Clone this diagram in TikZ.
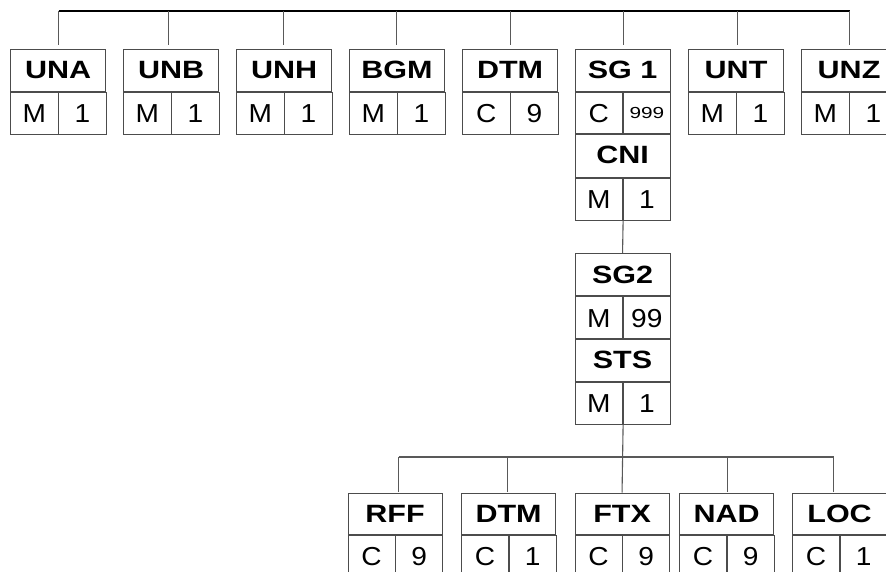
\documentclass[tikz,border=0pt]{standalone}
\usepackage{fontspec}
\setmainfont{Liberation Sans}
\newcommand\hdtext[1]{\scalebox{1.22}[1]{\fontsize{25}{25}\selectfont\bfseries #1}}
\newcommand\cltext[1]{\scalebox{1.08}[1]{\fontsize{26}{26}\selectfont #1}}
\newcommand\smtext[1]{\scalebox{1.3}[1]{\fontsize{16}{16}\selectfont #1}}
\tikzset{
  boxline/.style={draw=black!70, line width=1.1pt},
  hdr/.style={boxline, rectangle, inner sep=0pt, anchor=north west},
  cellbox/.style={boxline, rectangle, inner sep=0pt, anchor=north west},
  conn/.style={draw=black!65, line width=1.1pt},
  bar/.style={draw=black, line width=1.1pt},
  bbar/.style={draw=black!65, line width=1.1pt}
}
% name, left, top, width, header height, cell height, label, status, repeat
\newcommand\segbox[9]{%
  \node[hdr, minimum width=#4pt, minimum height=#5pt] (#1) at (#2,#3) {\hdtext{#7}};
  \node[cellbox, minimum width=#4/2*1pt, minimum height=#6pt] (#1s) at (#1.south west) {\cltext{#8}};
  \node[cellbox, minimum width=#4/2*1pt, minimum height=#6pt] (#1r) at (#1.south) {#9};
}
\begin{document}
\begin{tikzpicture}[x=1pt,y=-1pt]
\useasboundingbox (0,0) rectangle (886,571);
\begin{scope}
\clip (0,0) rectangle (886,571);
% top row
\segbox{UNA}{10}{49}{95}{41.5}{42}{UNA}{M}{\cltext{1}}
\segbox{UNB}{123}{49}{95}{41.5}{42}{UNB}{M}{\cltext{1}}
\segbox{UNH}{236}{49}{95}{41.5}{42}{UNH}{M}{\cltext{1}}
\segbox{BGM}{349}{49}{95}{41.5}{42}{BGM}{M}{\cltext{1}}
\segbox{DTMa}{462}{49}{95}{41.5}{42}{DTM}{C}{\cltext{9}}
\segbox{SGa}{574.5}{49}{95}{41.5}{42.5}{SG 1}{C}{\smtext{999}}
\segbox{UNT}{688}{49}{95}{41.5}{42}{UNT}{M}{\cltext{1}}
\segbox{UNZ}{801}{49}{95}{41.5}{42}{UNZ}{M}{\cltext{1}}
% SG1 stack
\segbox{CNI}{574.5}{133}{95}{43.5}{42.5}{CNI}{M}{\cltext{1}}
% SG2
\segbox{SGb}{574.5}{253}{95}{42}{43}{SG2}{M}{\cltext{99}}
\segbox{STS}{574.5}{338}{95}{43}{42}{STS}{M}{\cltext{1}}
% bottom row
\segbox{RFF}{347.5}{492.5}{94}{41.5}{42}{RFF}{C}{\cltext{9}}
\segbox{DTMb}{461}{492.5}{94}{41.5}{42}{DTM}{C}{\cltext{1}}
\segbox{FTX}{574.5}{492.5}{94}{41.5}{42}{FTX}{C}{\cltext{9}}
\segbox{NAD}{679}{492.5}{94}{41.5}{42}{NAD}{C}{\cltext{9}}
\segbox{LOC}{792}{492.5}{94}{41.5}{42}{LOC}{C}{\cltext{1}}
\end{scope}
% top bar
\coordinate (tb) at (0,11);
\draw[bar] ([xshift=0.5pt]UNA.north |- tb) -- ([xshift=0.5pt]UNZ.north |- tb);
\foreach \n/\dx in {UNA/0.5, UNB/-2.5, UNH/-0.8, BGM/-0.8, DTMa/0, SGa/0.5, UNT/1.5, UNZ/0.5}
  \draw[conn] ([xshift=\dx pt]\n.north |- tb) -- ([xshift=\dx pt, yshift=4pt]\n.north);
% SG1 -> SG2 -> FTX
\draw[conn] (CNIs.south east) -- (SGb.north);
\draw[conn] (STSs.south east) -- (FTX.north);
% bottom bar
\coordinate (bb) at (0,457);
\draw[bbar] ([xshift=3.5pt]RFF.north |- bb) -- ([xshift=-6pt]LOC.north |- bb);
\foreach \n/\dx in {RFF/3.5, DTMb/-1.5, NAD/0.5, LOC/-6}
  \draw[conn] ([xshift=\dx pt]\n.north |- bb) -- ([xshift=\dx pt, yshift=1pt]\n.north);
\end{tikzpicture}
\end{document}
